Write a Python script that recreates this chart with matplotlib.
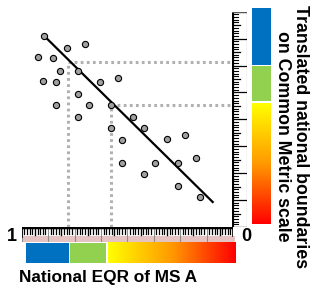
import numpy as np
import matplotlib
matplotlib.use("Agg")
import matplotlib.pyplot as plt
from matplotlib.colors import LinearSegmentedColormap

plt.rcParams["font.family"] = ["Liberation Sans", "DejaVu Sans"]

###############################################################
# data (EQR of MS A on x, common metric on y, both 0..1)
###############################################################
eqr_x = [0.893, 0.787, 0.700, 0.924, 0.852, 0.820, 0.735, 0.898, 0.839, 0.629,
         0.544, 0.734, 0.839, 0.681, 0.577, 0.734, 0.472, 0.577, 0.420, 0.524,
         0.311, 0.229, 0.524, 0.368, 0.420, 0.259, 0.175, 0.259, 0.156]
cm_y = [0.887, 0.830, 0.851, 0.788, 0.784, 0.725, 0.725, 0.677, 0.673, 0.673,
        0.692, 0.618, 0.565, 0.565, 0.565, 0.512, 0.512, 0.460, 0.460, 0.405,
        0.407, 0.426, 0.299, 0.299, 0.246, 0.297, 0.320, 0.192, 0.138]

fit_x = [0.893, 0.096]
fit_y = [0.887, 0.116]

# national boundaries and the translated ones
nat_bounds = [0.780, 0.577]
cm_bounds = [0.765, 0.567]

# class bands: (start, end) for high, good, moderate-to-bad
x_bands = [(0.980, 0.777), (0.771, 0.601), (0.593, -0.009)]
y_bands = [(1.017, 0.751), (0.748, 0.587), (0.571, 0.0125)]
band_colors = ["#0070C0", "#92D050"]

x_label = "National EQR of MS A"
y_label = "Translated national boundaries\non Common Metric scale"
end_labels = ["1", "0"]

###############################################################
# helpers
###############################################################
W, H = 310, 288
fig = plt.figure(figsize=(W / 100, H / 100), dpi=100)


def box(x0, y0, x1, y1):
    ax = fig.add_axes([x0 / W, 1 - y1 / H, (x1 - x0) / W, (y1 - y0) / H])
    ax.set_axis_off()
    return ax


grad = LinearSegmentedColormap.from_list("yr", ["#FFFF00", "#FF9900", "#FF0000"])

###############################################################
# main scatter
###############################################################
ax = box(21.7, 11.7, 233, 227)
ax.set_xlim(1, 0)
ax.set_ylim(0, 1)

for xb, yb in zip(nat_bounds, cm_bounds):
    ax.plot([xb, xb], [0, yb], color="#B0B0B0", lw=2.2, dashes=(0.9, 1.1), clip_on=False)
    ax.plot([xb, 0], [yb, yb], color="#B0B0B0", lw=2.2, dashes=(0.9, 1.1), clip_on=False)

ax.plot(fit_x, fit_y, color="black", lw=1.6, zorder=3)
ax.scatter(eqr_x, cm_y, s=20, color="#A0A0A0", edgecolor="black", linewidth=0.8,
           zorder=4, clip_on=False)

###############################################################
# bottom ruler
###############################################################
rb = box(21.7, 227.3, 233, 241.7)
rb.set_xlim(1, 0)
rb.set_ylim(0, 1)
rb.fill_between([1, -0.01], 0, 0.4, color="#E6C3C3", clip_on=False, lw=0)
for i in range(81):
    t = 1 - i / 80
    if i % 10 == 0:
        rb.plot([t, t], [0, 1], color="#8C8C8C", lw=0.8)
    elif i % 5 == 0:
        rb.plot([t, t], [0.45, 1], color="black", lw=1.0)
    else:
        rb.plot([t, t], [0.55, 1], color="black", lw=0.9)
rb.plot([1, 0], [1, 1], color="black", lw=2.5)
rb.plot([1, 1], [0.3, 1], color="black", lw=1.2)
rb.plot([0, 0], [0.4, 1], color="black", lw=1.2)

###############################################################
# right ruler
###############################################################
rr = box(231.7, 11.7, 246.7, 227)
rr.set_xlim(0, 1)
rr.set_ylim(0, 1)
for i in range(81):
    t = i / 80
    if i % 10 == 0:
        rr.plot([0, 0.95], [t, t], color="black", lw=0.9)
    elif i % 5 == 0:
        rr.plot([0, 0.55], [t, t], color="black", lw=0.9)
    else:
        rr.plot([0, 0.4], [t, t], color="black", lw=0.8)
rr.plot([0, 0], [0, 1], color="black", lw=3)
rr.plot([1, 1], [0, 1], color="#555555", lw=0.8)
rr.plot([0, 1], [1, 1], color="#555555", lw=0.8)
rr.plot([0, 1], [0, 0], color="#555555", lw=0.8)

###############################################################
# colour bars
###############################################################
cb = box(21.7, 243.3, 233, 263.3)
cb.set_xlim(1, 0)
cb.set_ylim(0, 1)
for (a, b), c in zip(x_bands[:2], band_colors):
    cb.fill_between([a, b], 0, 1, color=c, lw=0, clip_on=False)
a, b = x_bands[2]
im = cb.imshow(np.linspace(0, 1, 256)[None, :], cmap=grad, aspect="auto",
               extent=[a, b, 0, 1])
im.set_clip_on(False)
cb.set_xlim(1, 0)
cb.set_ylim(0, 1)

cr = box(251.7, 11.7, 270.7, 227)
cr.set_xlim(0, 1)
cr.set_ylim(0, 1)
for (a, b), c in zip(y_bands[:2], band_colors):
    cr.fill_between([0, 1], b, a, color=c, lw=0, clip_on=False)
a, b = y_bands[2]
im = cr.imshow(np.linspace(0, 1, 256)[:, None], cmap=grad, aspect="auto",
               extent=[0, 1, b, a], origin="upper")
im.set_clip_on(False)
cr.set_xlim(0, 1)
cr.set_ylim(0, 1)

###############################################################
# text
###############################################################
fig.text(11.7 / W, 1 - 236.5 / H, end_labels[0], fontsize=13, fontweight="bold",
         ha="center", va="center")
fig.text(246.7 / W, 1 - 236.5 / H, end_labels[1], fontsize=13, fontweight="bold",
         ha="center", va="center")
fig.text(108.5 / W, 1 - 277.5 / H, x_label, fontsize=12.4, fontweight="bold",
         ha="center", va="center")
fig.text(291.5 / W, 1 - 136.5 / H, y_label, fontsize=12.8, fontweight="bold",
         ha="center", va="center", rotation=-90, linespacing=1.05)

fig.savefig("out.png", dpi=100)
